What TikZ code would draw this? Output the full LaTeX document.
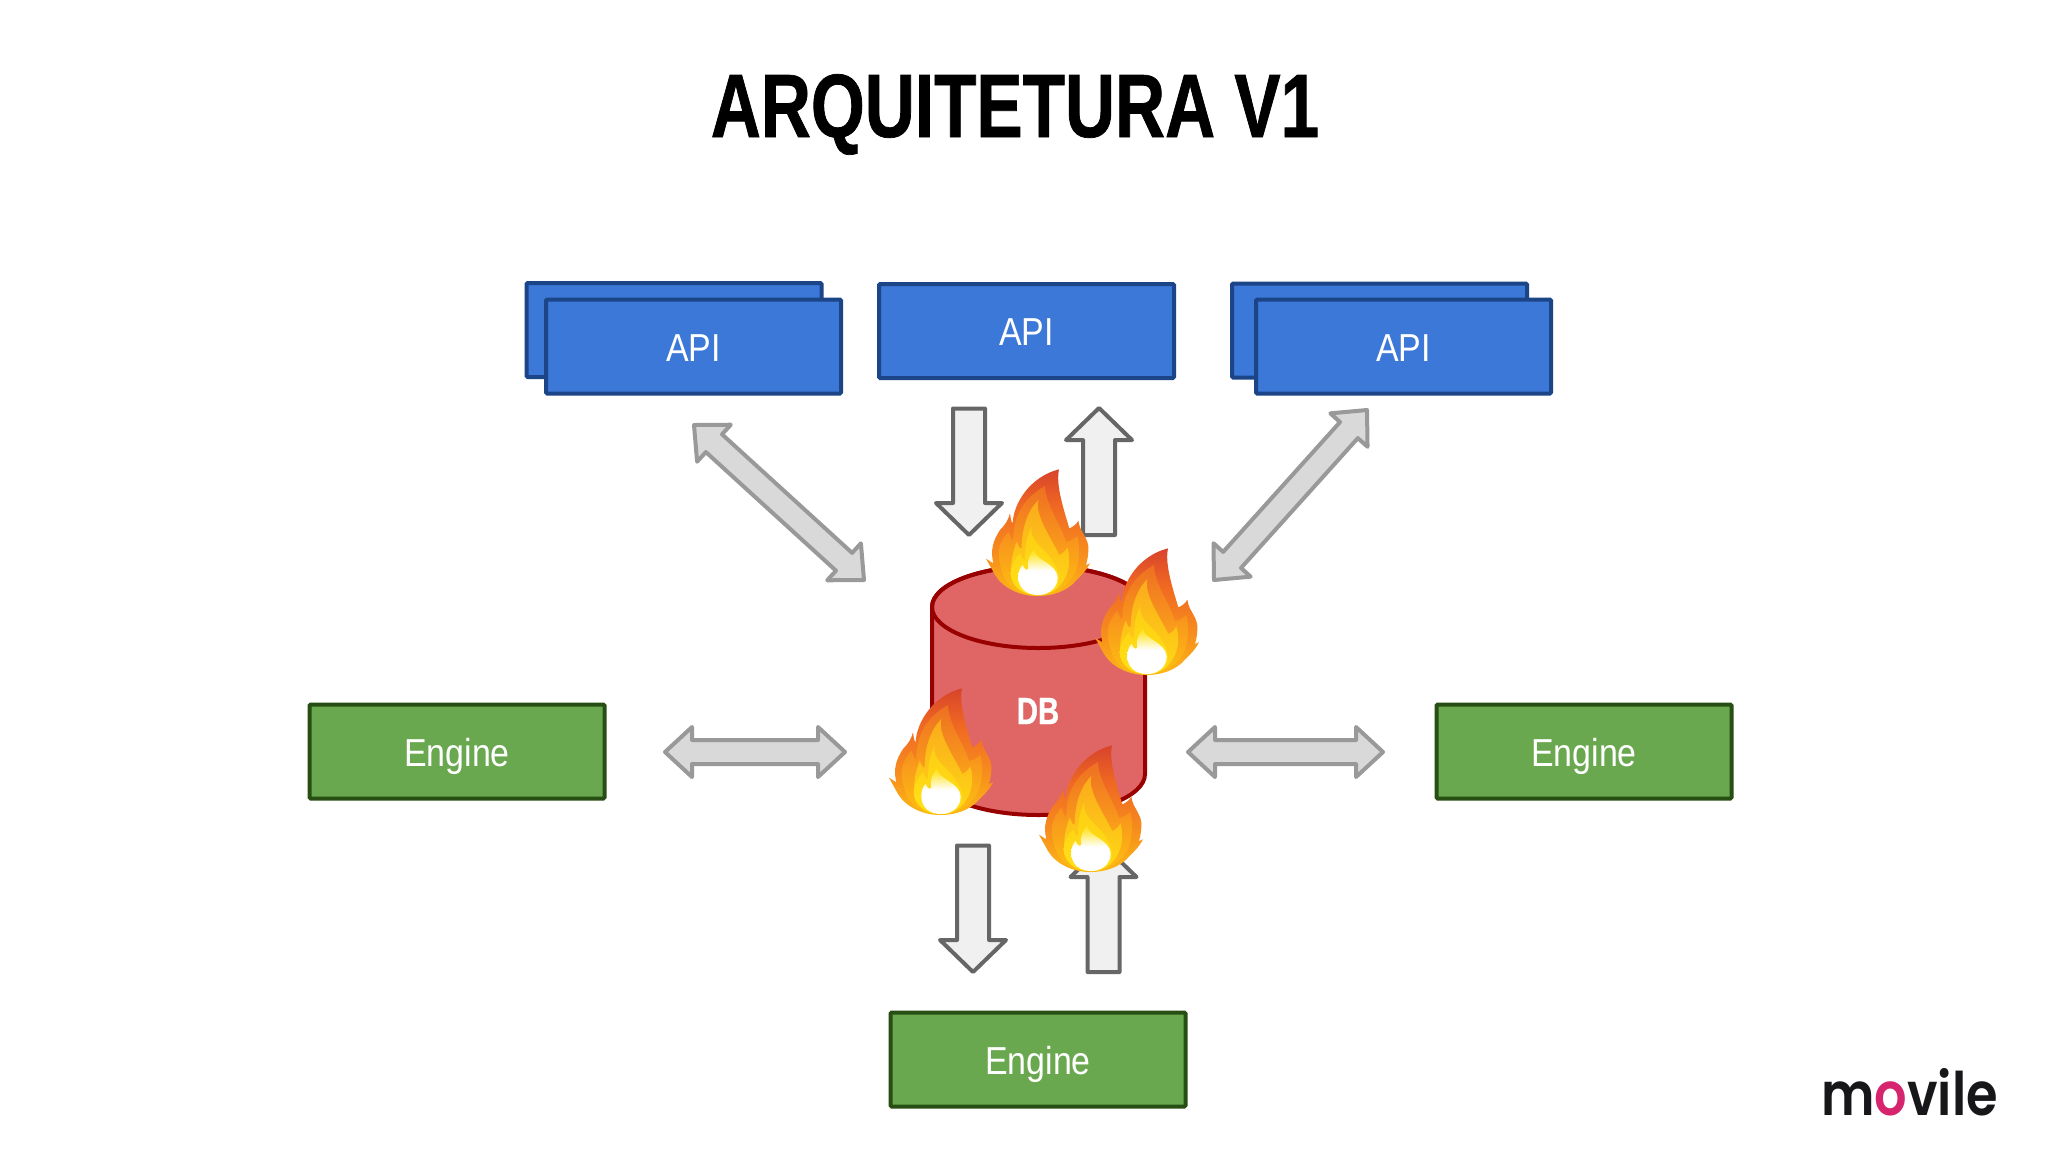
\documentclass[tikz,border=0pt]{standalone}
\usepackage{fontspec}
\usetikzlibrary{calc}
\setmainfont{Liberation Sans}
\newfontfamily\labelfont[FakeStretch=0.87]{Liberation Sans}
\newfontfamily\headfont[FakeStretch=0.77,BoldFeatures={FakeBold=0.8}]{Liberation Sans}
\newfontfamily\logofont[FakeStretch=0.85]{Poppins SemiBold}
\definecolor{apifill}{HTML}{3C78D8}
\definecolor{apiline}{HTML}{1C4587}
\definecolor{engfill}{HTML}{6AA84F}
\definecolor{engline}{HTML}{274E13}
\definecolor{dbfill}{HTML}{E06666}
\definecolor{dbline}{HTML}{990000}
\definecolor{logopink}{HTML}{D6246E}
\definecolor{logoblack}{HTML}{17171A}
\definecolor{flA}{HTML}{FCB815}
\definecolor{flB}{HTML}{F78C1E}
\definecolor{flC}{HTML}{F06922}
\definecolor{flD}{HTML}{D8432B}
\definecolor{flE}{HTML}{FDC010}
\definecolor{flF}{HTML}{F8961C}
\definecolor{flG}{HTML}{EE6F22}
\definecolor{flH}{HTML}{FEDB14}
\definecolor{flI}{HTML}{FBAA1C}
\definecolor{flJ}{HTML}{FFE215}
\definecolor{flK}{HTML}{FECD14}
\definecolor{flL}{HTML}{FFE428}
\definecolor{flW}{HTML}{FFFFFF}
\pgfdeclareverticalshading{flameA}{100bp}{color(0bp)=(flA); color(25bp)=(flA); color(42bp)=(flB); color(60bp)=(flC); color(75bp)=(flD); color(100bp)=(flD)}
\pgfdeclareverticalshading{flameB}{100bp}{color(0bp)=(flE); color(25bp)=(flE); color(50bp)=(flF); color(75bp)=(flG); color(100bp)=(flG)}
\pgfdeclareverticalshading{flameC}{100bp}{color(0bp)=(flH); color(25bp)=(flH); color(75bp)=(flI); color(100bp)=(flI)}
\pgfdeclareverticalshading{flameD}{100bp}{color(0bp)=(flJ); color(25bp)=(flJ); color(75bp)=(flK); color(100bp)=(flK)}
\pgfdeclareverticalshading{flameE}{100bp}{color(0bp)=(flW); color(52bp)=(flW); color(72bp)=(flL); color(100bp)=(flJ)}
\tikzset{
  box/.style={draw,line width=2pt,rounded corners=0.6pt,minimum width=147.5pt,minimum height=47pt,inner sep=0pt,text=white,text height=14.5pt,text depth=0pt,font=\labelfont\fontsize{19.5pt}{20pt}\selectfont},
  apibox/.style={box,fill=apifill,draw=apiline},
  engbox/.style={box,fill=engfill,draw=engline},
  grayarrow/.style={draw=black!40,fill=black!15,line width=2pt,line join=round},
  lightarrow/.style={draw=black!60,fill=black!6,line width=2pt,line join=round},
}
% double block arrow between two named coordinates
\newcommand\dblarrow[2]{%
  \draw[grayarrow] (#1)
    -- ($(#1)!13.5pt!(#2)!12.5pt!90:(#2)$) -- ($(#1)!13.5pt!(#2)!6pt!90:(#2)$)
    -- ($(#2)!13.5pt!(#1)!6pt!-90:(#1)$) -- ($(#2)!13.5pt!(#1)!12.5pt!-90:(#1)$)
    -- (#2)
    -- ($(#2)!13.5pt!(#1)!12.5pt!90:(#1)$) -- ($(#2)!13.5pt!(#1)!6pt!90:(#1)$)
    -- ($(#1)!13.5pt!(#2)!6pt!-90:(#2)$) -- ($(#1)!13.5pt!(#2)!12.5pt!-90:(#2)$)
    -- cycle;}
% single block arrow: tail, tip
\newcommand\sglarrow[2]{%
  \draw[lightarrow] ($(#1)!8pt!90:(#2)$)
    -- ($(#2)!16pt!(#1)!8pt!-90:(#1)$) -- ($(#2)!16pt!(#1)!16.5pt!-90:(#1)$)
    -- (#2)
    -- ($(#2)!16pt!(#1)!16.5pt!90:(#1)$) -- ($(#2)!16pt!(#1)!8pt!90:(#1)$)
    -- ($(#1)!8pt!-90:(#2)$) -- cycle;}
% flame drawn in a local 3x grid
\newcommand\flameart[2]{%
  \begin{scope}[shift={(#1,#2)},x=0.16667pt,y=-0.16667pt]
    \path[shading=flameA]
      (237,28) .. controls (228,70) and (245,130) .. (268,205)
      .. controls (280,200) and (290,192) .. (295,182)
      .. controls (298,215) and (328,235) .. (325,270)
      .. controls (325,285) and (322,300) .. (318,315)
      -- (330,310)
      .. controls (320,330) and (305,345) .. (290,360)
      .. controls (260,395) and (215,408) .. (172,408)
      .. controls (120,408) and (70,385) .. (45,345)
      -- (18,296) -- (40,310)
      .. controls (30,270) and (40,240) .. (60,210)
      .. controls (75,195) and (85,180) .. (90,160)
      .. controls (92,175) and (93,185) .. (98,190)
      .. controls (100,130) and (150,50) .. (237,28) -- cycle;
    \path[shading=flameB]
      (195,78) .. controls (195,130) and (240,190) .. (258,245)
      .. controls (270,245) and (285,235) .. (292,228)
      .. controls (300,260) and (300,300) .. (285,340)
      .. controls (260,385) and (215,405) .. (172,405)
      .. controls (110,405) and (70,370) .. (62,320)
      .. controls (50,280) and (55,250) .. (85,215)
      .. controls (90,225) and (95,245) .. (100,240)
      .. controls (100,180) and (120,120) .. (195,78) -- cycle;
    \path[shading=flameC]
      (175,120) .. controls (165,165) and (205,220) .. (238,285)
      .. controls (250,280) and (258,270) .. (262,262)
      .. controls (280,320) and (255,390) .. (190,405)
      .. controls (150,410) and (100,395) .. (95,335)
      .. controls (90,310) and (100,270) .. (110,245)
      .. controls (115,255) and (120,270) .. (125,265)
      .. controls (125,220) and (135,160) .. (175,120) -- cycle;
    \path[shading=flameD]
      (155,200) .. controls (145,245) and (200,265) .. (225,315)
      .. controls (250,360) and (240,395) .. (180,405)
      .. controls (125,408) and (92,375) .. (92,340)
      .. controls (92,315) and (105,295) .. (120,280)
      .. controls (125,292) and (130,300) .. (135,298)
      .. controls (135,260) and (140,225) .. (155,200) -- cycle;
    \path[shading=flameE]
      (162,270) .. controls (165,300) and (230,310) .. (233,352)
      .. controls (233,385) and (205,405) .. (175,405)
      .. controls (140,405) and (115,385) .. (115,352)
      .. controls (115,335) and (120,322) .. (128,315)
      .. controls (132,325) and (140,335) .. (145,325)
      .. controls (140,305) and (148,285) .. (162,270) -- cycle;
  \end{scope}}
\begin{document}
\begin{tikzpicture}[x=0.5pt,y=-0.5pt]
\useasboundingbox[fill=white] (0,0) rectangle (2048,1152);

\node[inner sep=0pt,anchor=base,font=\headfont\bfseries\fontsize{45pt}{46pt}\selectfont] (title) at (1015,137) {ARQUITETURA V1};

% API boxes
\node[apibox] (api1back) at (674,330) {};
\node[apibox] (api1) at (693.5,346.5) {API};
\node[apibox] (api2) at (1026.5,331) {API};
\node[apibox] (api3back) at (1379.5,330.5) {};
\node[apibox] (api3) at (1403.5,346.5) {API};
% Engine boxes
\node[engbox] (engL) at (457,751.5) {Engine};
\node[engbox] (engR) at (1584,751.5) {Engine};
\node[engbox] (engB) at (1038,1059.5) {Engine};

% connector ends
\coordinate (d1a) at (694,425);
\coordinate (d1b) at (864,580);
\coordinate (d2a) at (1367,410);
\coordinate (d2b) at (1214,580);
\coordinate (h1a) at (665,752);
\coordinate (h1b) at (845,752);
\coordinate (h2a) at (1188,752);
\coordinate (h2b) at (1383,752);
\coordinate (s1a) at (969,408.5);
\coordinate (s1b) at (969,535);
\coordinate (s2a) at (1099,535);
\coordinate (s2b) at (1099,408);
\coordinate (s3a) at (973,845.5);
\coordinate (s3b) at (973,972);
\coordinate (s4a) at (1103.5,972);
\coordinate (s4b) at (1103.5,845);

\dblarrow{d1a}{d1b}
\dblarrow{d2a}{d2b}
\dblarrow{h1a}{h1b}
\dblarrow{h2a}{h2b}
\sglarrow{s1a}{s1b}
\sglarrow{s2a}{s2b}
\sglarrow{s3a}{s3b}
\sglarrow{s4a}{s4b}

% database cylinder
\draw[fill=dbfill,draw=dbline,line width=2pt]
  (932,607) -- (932,774) arc[start angle=180,end angle=360,x radius=106.5,y radius=-41]
  -- (1145,607) arc[start angle=0,end angle=180,x radius=106.5,y radius=-41] -- cycle;
\draw[draw=dbline,line width=2pt] (1038.5,607) ellipse[x radius=106.5,y radius=41];
\node[inner sep=0pt,text=white,font=\headfont\bfseries\fontsize{19pt}{20pt}\selectfont] (db) at (1038,711) {DB};

% fires
\flameart{980}{460}
\flameart{1089}{539}
\flameart{883}{679}
\flameart{1033}{736}

% logo
\node[inner sep=0pt,anchor=base west,text=logoblack,font=\logofont\fontsize{30pt}{30pt}\selectfont] (logo) at (1821,1115) {m\textcolor{logopink}{o}vile};
\end{tikzpicture}
\end{document}
